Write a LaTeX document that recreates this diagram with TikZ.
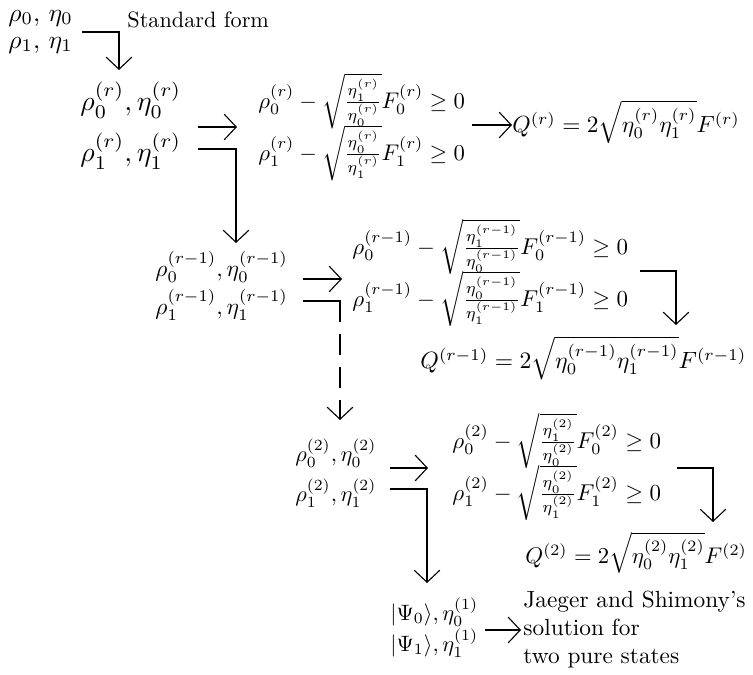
\documentclass[tikz,border=0pt]{standalone}
\usepackage{graphicx}
\usetikzlibrary{arrows.meta}
\begin{document}
\begin{tikzpicture}[x=0.45pt,y=-0.45pt,
  every node/.style={inner sep=0pt, anchor=west},
  arr/.style={-{Straight Barb[length=5.4pt,width=11.5pt]}, line width=0.5pt},
  ln/.style={line width=0.5pt},
  dsh/.style={line width=0.5pt, dash pattern=on 9.45pt off 5.4pt, dash phase=9.45pt}]
\useasboundingbox (0,0) rectangle (753,675);
% top
\node (t0) at (8,18) {\scalebox{1.15}{$\rho_0,\,\eta_0$}};
\node (t1) at (8,45) {\scalebox{1.15}{$\rho_1,\,\eta_1$}};
\node (sf) at (127,20) {Standard form};
% block A
\node (a0) at (80,100) {\scalebox{1.25}{$\rho_0^{(r)}, \eta_0^{(r)}$}};
\node (a1) at (80,151) {\scalebox{1.25}{$\rho_1^{(r)}, \eta_1^{(r)}$}};
\node (ai0) at (258,101) {\scalebox{1.02}{$\rho_0^{(r)} - \sqrt{\frac{\eta_1^{(r)}}{\eta_0^{(r)}}}F_0^{(r)} \geq 0$}};
\node (ai1) at (258,153) {\scalebox{1.02}{$\rho_1^{(r)} - \sqrt{\frac{\eta_0^{(r)}}{\eta_1^{(r)}}}F_1^{(r)} \geq 0$}};
\node (qa) at (512,122) {\scalebox{1.05}{$Q^{(r)} = 2\sqrt{\eta_0^{(r)}\eta_1^{(r)}}F^{(r)}$}};
% block B
\node (b0) at (155,267) {\scalebox{1.05}{$\rho_0^{(r-1)}, \eta_0^{(r-1)}$}};
\node (b1) at (155,305) {\scalebox{1.05}{$\rho_1^{(r-1)}, \eta_1^{(r-1)}$}};
\node (bi0) at (352,247) {\scalebox{1.03}{$\rho_0^{(r-1)} - \sqrt{\frac{\eta_1^{(r-1)}}{\eta_0^{(r-1)}}}F_0^{(r-1)} \geq 0$}};
\node (bi1) at (352,299) {\scalebox{1.03}{$\rho_1^{(r-1)} - \sqrt{\frac{\eta_0^{(r-1)}}{\eta_1^{(r-1)}}}F_1^{(r-1)} \geq 0$}};
\node (qb) at (420,358) {\scalebox{1.06}{$Q^{(r-1)} = 2\sqrt{\eta_0^{(r-1)}\eta_1^{(r-1)}}F^{(r-1)}$}};
% block C
\node (c0) at (295,453) {$\rho_0^{(2)}, \eta_0^{(2)}$};
\node (c1) at (295,493) {$\rho_1^{(2)}, \eta_1^{(2)}$};
\node (ci0) at (452,441) {\scalebox{1.03}{$\rho_0^{(2)} - \sqrt{\frac{\eta_1^{(2)}}{\eta_0^{(2)}}}F_0^{(2)} \geq 0$}};
\node (ci1) at (452,493) {\scalebox{1.03}{$\rho_1^{(2)} - \sqrt{\frac{\eta_0^{(2)}}{\eta_1^{(2)}}}F_1^{(2)} \geq 0$}};
\node (qc) at (525,553) {\scalebox{1.02}{$Q^{(2)} = 2\sqrt{\eta_0^{(2)}\eta_1^{(2)}}F^{(2)}$}};
% block D
\node (d0) at (390,612) {$|\Psi_0\rangle, \eta_0^{(1)}$};
\node (d1) at (390,643) {$|\Psi_1\rangle, \eta_1^{(1)}$};
\node (js) at (523,630) {\scalebox{1.05}{\begin{tabular}{@{}l@{}}Jaeger and Shimony's\\solution for\\two pure states\end{tabular}}};
% connector points
\coordinate (p1s) at (82,32);   \coordinate (p1e) at (119,70);
\coordinate (p2s) at (198,127); \coordinate (p2e) at (237,127);
\coordinate (p3s) at (198,149); \coordinate (p3e) at (236,243);
\coordinate (p4s) at (472,125); \coordinate (p4e) at (512,125);
\coordinate (p5s) at (303,279); \coordinate (p5e) at (342,279);
\coordinate (p6s) at (303,301); \coordinate (p6m) at (340,322); \coordinate (p6e) at (340,420);
\coordinate (p7s) at (640,271); \coordinate (p7e) at (676,325);
\coordinate (p8s) at (390,468); \coordinate (p8e) at (428,468);
\coordinate (p9s) at (390,489); \coordinate (p9e) at (427,583);
\coordinate (p10s) at (677,468); \coordinate (p10e) at (713,522);
\coordinate (p11s) at (485,630); \coordinate (p11e) at (521,630);
% connectors
\draw[arr] (p1s) -| (p1e);
\draw[arr] (p2s) -- (p2e);
\draw[arr] (p3s) -| (p3e);
\draw[arr] (p4s) -- (p4e);
\draw[arr] (p5s) -- (p5e);
\draw[ln] (p6s) -| (p6m);
\draw[dsh,arr] (p6m) -- (p6e);
\draw[arr] (p7s) -| (p7e);
\draw[arr] (p8s) -- (p8e);
\draw[arr] (p9s) -| (p9e);
\draw[arr] (p10s) -| (p10e);
\draw[arr] (p11s) -- (p11e);
\end{tikzpicture}
\end{document}
